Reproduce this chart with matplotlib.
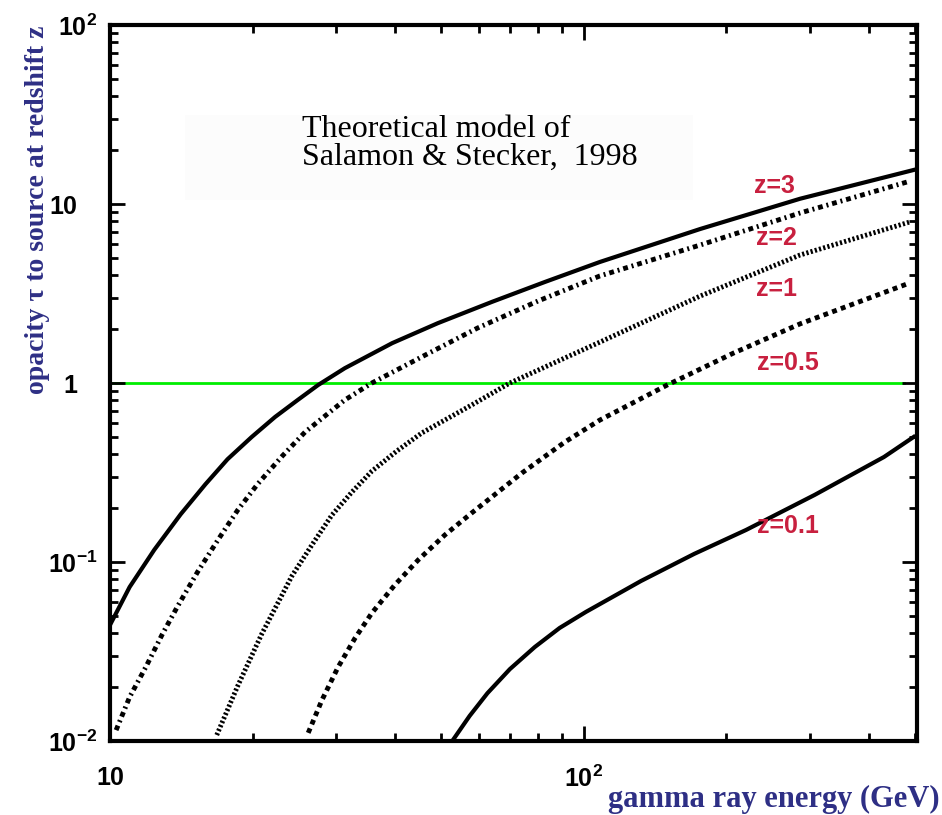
import numpy as np
import matplotlib
matplotlib.use('Agg')
import matplotlib.pyplot as plt
from matplotlib.ticker import FixedLocator, LogLocator, NullFormatter
from matplotlib.patches import Rectangle

matplotlib.rcParams.update({'mathtext.fontset': 'custom',
                            'mathtext.rm': 'Liberation Sans:bold',
                            'mathtext.bf': 'Liberation Sans:bold',
                            'mathtext.default': 'rm',
                            'font.family': 'Liberation Sans',
                            'font.weight': 'bold'})

# optical depth curves (energy in GeV, tau)
e_z3 = [10.0, 11.0, 12.4, 14.1, 15.9, 17.7, 19.9, 22.3, 24.9, 27.5, 31.3, 39.4,
        49.2, 64.0, 82.8, 108, 176, 286, 497]
tau_z3 = [0.0445, 0.0725, 0.117, 0.185, 0.272, 0.375, 0.499, 0.646, 0.804, 0.975,
          1.21, 1.67, 2.16, 2.84, 3.67, 4.74, 7.25, 10.7, 15.5]

e_z2 = [10.3, 11.0, 11.9, 12.9, 13.9, 15.3, 16.9, 18.6, 20.5, 23.1, 25.8, 31.3,
        35.7, 46.2, 59.7, 80.0, 108, 176, 286, 487]
tau_z2 = [0.0115, 0.0176, 0.0259, 0.0396, 0.0568, 0.0879, 0.133, 0.195, 0.273,
          0.391, 0.532, 0.804, 1.0, 1.43, 2.03, 2.87, 3.96, 5.90, 8.91, 13.4]

e_z1 = [16.8, 18.6, 20.9, 24.2, 26.7, 29.4, 32.4, 35.7, 40.3, 45.5, 58.0, 69.8,
        91.2, 108, 176, 286, 487]
tau_z1 = [0.0108, 0.0203, 0.0396, 0.0835, 0.125, 0.183, 0.246, 0.322, 0.417,
          0.526, 0.754, 1.0, 1.38, 1.69, 3.06, 5.19, 7.93]

e_z05 = [26.2, 28.0, 30.3, 32.9, 35.7, 39.9, 44.7, 50.9, 58.0, 74.0, 91.2, 108,
         150, 207, 286, 487]
tau_z05 = [0.0111, 0.0169, 0.0259, 0.0376, 0.0519, 0.0744, 0.1026, 0.1416, 0.188,
           0.314, 0.468, 0.62, 0.975, 1.47, 2.14, 3.62]

e_z01 = [52.9, 57.4, 62.6, 69.8, 78.8, 88.9, 101, 132, 171, 220, 307, 430, 497]
tau_z01 = [0.0101, 0.0138, 0.0185, 0.0252, 0.0335, 0.0428, 0.0526, 0.0783, 0.111,
           0.151, 0.237, 0.386, 0.50]

z_labels = ['z=3', 'z=2', 'z=1', 'z=0.5', 'z=0.1']
z_label_e = [253, 255, 255, 270, 270]
z_label_tau = [12.6, 6.46, 3.35, 1.29, 0.159]

line_e = [10, 475]
line_tau = [1, 1]

yticks = [0.01, 0.1, 1, 10, 100]
ytick_labels = [r'$10^{-2}$', r'$10^{-1}$', '1', '10', r'$10^{2}$']
xticks = [10, 100]
xtick_labels = ['10', r'$10^{2}$']

navy = '#2e2f85'
red = '#c8203f'

fig = plt.figure(figsize=(9.42, 8.15), dpi=100)
ax = fig.add_axes([0.1168, 0.0908, 0.8567, 0.8785])

ax.add_patch(Rectangle((0.093, 0.755), 0.63, 0.12, transform=ax.transAxes,
                       facecolor='#fcfcfc', edgecolor='none', zorder=0))

ax.plot(line_e, line_tau, color='#00ee00', lw=2, zorder=1)
ax.plot(e_z3, tau_z3, color='k', lw=3, zorder=2)
ax.plot(e_z2, tau_z2, color='k', lw=3.5, dashes=(1.0, 0.8, 0.4, 0.8), zorder=2)
ax.plot(e_z1, tau_z1, color='k', lw=3.5, dashes=(0.45, 0.45), zorder=2)
ax.plot(e_z05, tau_z05, color='k', lw=3.5, dashes=(1.0, 0.9), zorder=2)
ax.plot(e_z01, tau_z01, color='k', lw=3, zorder=2)

for lab, xe, yt in zip(z_labels, z_label_e, z_label_tau):
    ax.text(xe, yt, lab, color=red, fontsize=18, fontweight='bold',
            family='Liberation Sans', ha='center', va='center')

ax.text(0.238, 0.835, 'Theoretical model of\nSalamon & Stecker,  1998',
        transform=ax.transAxes, family='Liberation Serif', fontweight='normal',
        fontsize=23, ha='left', va='center', linespacing=0.95)

ax.set_xscale('log')
ax.set_yscale('log')
ax.set_xlim(10, 505)
ax.set_ylim(0.01, 100)

ax.xaxis.set_major_locator(FixedLocator(xticks))
ax.set_xticklabels(xtick_labels)
ax.yaxis.set_major_locator(FixedLocator(yticks))
ax.set_yticklabels([''] * len(yticks))
ax.xaxis.set_minor_locator(LogLocator(base=10, subs=np.arange(2, 10)))
ax.yaxis.set_minor_locator(LogLocator(base=10, subs=np.arange(2, 10)))
ax.xaxis.set_minor_formatter(NullFormatter())
ax.yaxis.set_minor_formatter(NullFormatter())

# y tick labels placed by hand: the plain ones sit further left than the powers
ytr = ax.get_yaxis_transform()
for val, lab in zip(yticks, ytick_labels):
    xpos = -0.016 if '^' in lab else -0.041
    ax.text(xpos, val, lab, transform=ytr, fontsize=18, ha='right',
            va='center_baseline', clip_on=False)

ax.tick_params(which='both', direction='in', top=True, right=True, width=2)
ax.tick_params(which='major', length=11)
ax.tick_params(which='minor', length=6)
ax.tick_params(axis='x', which='major', pad=18, labelsize=18)

for sp in ax.spines.values():
    sp.set_linewidth(3)

fig.text(0.998, 1 - 807 / 815, 'gamma ray energy (GeV)', color=navy,
         family='Liberation Serif', fontweight='bold', fontsize=22,
         ha='right', va='baseline')
fig.text(0.040, 1 - 210 / 815, 'opacity τ to source at redshift z', color=navy,
         family='Liberation Serif', fontweight='bold', fontsize=20,
         rotation=90, ha='center', va='center')

fig.savefig('out.png', dpi=100)
